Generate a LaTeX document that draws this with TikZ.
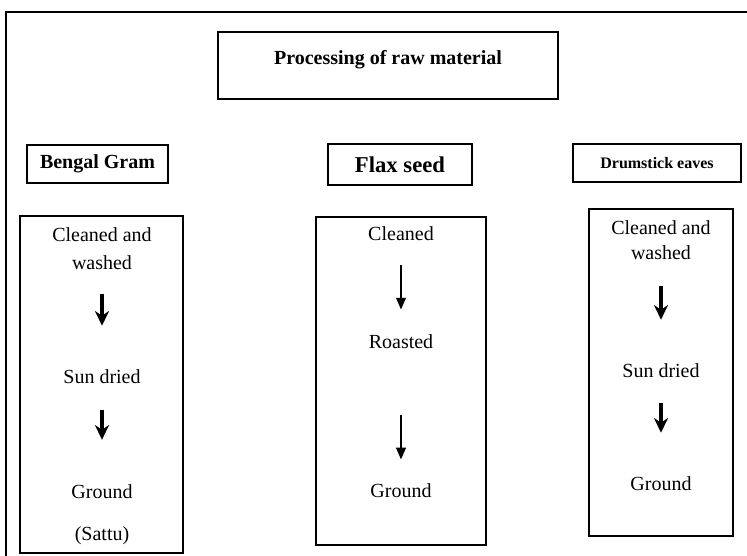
\documentclass[tikz,border=0pt]{standalone}
\usepackage{fontspec}
\setmainfont{Liberation Serif}
\usepackage{tikz}
\usetikzlibrary{arrows.meta}

\begin{document}
\begin{tikzpicture}[x=0.75pt,y=0.75pt,yscale=-1,xscale=1,
  hdrbox/.style={draw,line width=2pt,inner sep=0pt,font=\bfseries\fontsize{15pt}{18pt}\selectfont},
  listbox/.style={draw,line width=1.3pt,inner sep=0pt},
  stagetext/.style={inner sep=0pt,align=center,text height=11pt,text depth=3pt,font=\fontsize{15pt}{21pt}\selectfont},
  thickarr/.style={line width=2.4pt,-{Stealth[length=11pt,width=10.5pt,inset=3.5pt]}},
  thinarr/.style={line width=2pt,-{Triangle[length=9pt,width=7pt]}}]
\useasboundingbox (0,0) rectangle (747,556);

%Straight Lines (frame)
\draw [line width=1.5pt]  (6,556) -- (6,12) -- (747,12) ;

%Shape: Rectangle
\node [hdrbox,line width=1.6pt,minimum width=255pt,minimum height=50.25pt,text height=10pt,text depth=11pt] (title) at (388,65.5) {Processing of raw material};
%Shape: Rectangle
\node [hdrbox,minimum width=105.75pt,minimum height=28.5pt] (bengal) at (97.5,164) {Bengal Gram};
%Shape: Rectangle
\node [hdrbox,minimum width=108pt,minimum height=30.75pt,font=\bfseries\fontsize{17pt}{20pt}\selectfont] (flax) at (400,164.5) {Flax seed};
%Shape: Rectangle
\node [hdrbox,minimum width=126pt,minimum height=28.5pt,font=\bfseries\fontsize{12pt}{14pt}\selectfont] (drum) at (657,163) {Drumstick eaves};

%Shape: Rectangle
\node [listbox,minimum width=122.25pt,minimum height=252.75pt] (bengalbox) at (101.5,384.5) {};
%Shape: Rectangle
\node [listbox,minimum width=127.5pt,minimum height=246pt] (flaxbox) at (401,381) {};
%Shape: Rectangle
\node [listbox,minimum width=108pt,minimum height=245.25pt] (drumbox) at (661,372.5) {};

% Text Node
\node [stagetext,text height=,text depth=] (bclean) at (102,249) {Cleaned and\\washed};
% Text Node
\node [stagetext] (bsun) at (102,378) {Sun dried};
% Text Node
\node [stagetext] (bground) at (102,493) {Ground};
% Text Node
\node [stagetext] (bsattu) at (102,535) {(Sattu)};

% Text Node
\node [stagetext] (fclean) at (401,235) {Cleaned};
% Text Node
\node [stagetext] (froast) at (401,343) {Roasted};
% Text Node
\node [stagetext] (fground) at (401,492) {Ground};

% Text Node
\node [stagetext,text height=,text depth=,font=\fontsize{15pt}{18.75pt}\selectfont] (dclean) at (661,240.5) {Cleaned and\\washed};
% Text Node
\node [stagetext] (dsun) at (661,372) {Sun dried};
% Text Node
\node [stagetext] (dground) at (661,485) {Ground};

%Straight Lines
\draw [thickarr,shorten <=17.6pt,shorten >=32pt] (bclean) -- (bsun) ;
\draw [thickarr,shorten <=17pt,shorten >=32.7pt] (bsun) -- (bground) ;
%Straight Lines
\draw [thinarr,shorten <=15.5pt,shorten >=17.7pt] (fclean) -- (froast) ;
\draw [thinarr,shorten <=47pt,shorten >=17pt] (froast) -- (fground) ;
%Straight Lines
\draw [thickarr,shorten <=19pt,shorten >=32pt] (dclean) -- (dsun) ;
\draw [thickarr,shorten <=16.2pt,shorten >=32pt] (dsun) -- (dground) ;

\end{tikzpicture}
\end{document}
